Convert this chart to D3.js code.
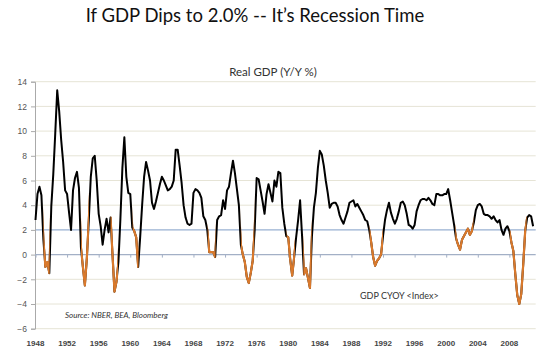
<!DOCTYPE html>
<html>
<head>
<meta charset="utf-8">
<script src="https://cdn.jsdelivr.net/npm/d3@7/dist/d3.min.js"></script>
<style>
  html, body { margin: 0; padding: 0; background: #fff; }
  svg { display: block; }
</style>
</head>
<body>
<svg id="chart" width="552" height="358"></svg>
<script>
// ---- Data (quarterly Real GDP Y/Y %, starting 1948 Q1) ----
const startYear = 1948;
const gdpYoY = [
  2.8, 4.9, 5.5, 4.8,     // 1948
  1.2, -1.0, -0.6, -1.5,  // 1949
  3.9, 6.5, 9.8, 13.3,    // 1950
  11.6, 9.3, 7.5, 5.2,    // 1951
  4.9, 3.4, 2.0, 5.2,     // 1952
  6.2, 6.7, 5.4, 0.6,     // 1953
  -1.0, -2.5, -0.3, 2.8,  // 1954
  6.3, 7.8, 8.0, 6.0,     // 1955
  3.3, 2.3, 0.8, 2.0,     // 1956
  2.9, 1.8, 3.0, 0.0,     // 1957
  -3.0, -2.2, -0.6, 2.9,  // 1958
  7.0, 9.5, 6.3, 5.0,     // 1959
  4.9, 2.2, 1.9, 1.4,     // 1960
  -1.0, 1.4, 4.0, 6.3,    // 1961
  7.5, 6.8, 6.0, 4.2,     // 1962
  3.7, 4.3, 5.0, 5.7,     // 1963
  6.3, 6.0, 5.6, 5.2,     // 1964
  5.3, 5.5, 6.0, 8.5,     // 1965
  8.5, 7.2, 5.8, 4.0,     // 1966
  3.0, 2.5, 2.4, 2.5,     // 1967
  5.0, 5.3, 5.2, 5.0,     // 1968
  4.6, 3.1, 2.8, 2.0,     // 1969
  0.2, 0.2, 0.2, -0.2,    // 1970
  2.8, 3.1, 3.2, 4.4,     // 1971
  3.7, 5.2, 5.5, 6.6,     // 1972
  7.6, 6.6, 5.3, 4.0,     // 1973
  0.8, 0.0, -0.6, -1.8,   // 1974
  -2.3, -1.5, -0.5, 2.0,  // 1975
  6.2, 6.1, 5.2, 4.3,     // 1976
  3.3, 4.9, 5.7, 5.0,     // 1977
  4.3, 6.0, 5.5, 6.7,     // 1978
  6.6, 3.8, 2.5, 1.5,     // 1979
  1.4, -0.4, -1.7, -0.2,  // 1980
  1.4, 2.8, 4.4, 1.5,     // 1981
  -1.6, -1.1, -1.9, -2.7, // 1982
  1.5, 3.8, 5.0, 7.0,     // 1983
  8.4, 8.1, 7.2, 6.0,     // 1984
  5.0, 3.8, 4.1, 4.2,     // 1985
  4.2, 3.9, 3.2, 2.8,     // 1986
  2.5, 3.0, 3.5, 4.2,     // 1987
  4.3, 4.4, 3.9, 4.1,     // 1988
  3.8, 3.5, 3.2, 2.8,     // 1989
  2.7, 2.0, 1.0, -0.2,    // 1990
  -0.9, -0.5, -0.3, 0.0,  // 1991
  1.5, 2.8, 3.6, 4.2,     // 1992
  3.4, 2.9, 2.5, 2.9,     // 1993
  3.5, 4.2, 4.3, 4.0,     // 1994
  3.3, 2.4, 2.3, 2.1,     // 1995
  2.4, 3.5, 4.0, 4.4,     // 1996
  4.5, 4.5, 4.4, 4.6,     // 1997
  4.4, 4.1, 4.0, 4.9,     // 1998
  4.9, 4.8, 4.8, 4.9,     // 1999
  4.9, 5.3, 4.4, 3.4,     // 2000
  2.4, 1.3, 0.8, 0.4,     // 2001
  1.2, 1.5, 1.8, 2.1,     // 2002
  1.6, 1.9, 2.6, 3.6,     // 2003
  4.0, 4.1, 3.9, 3.3,     // 2004
  3.2, 3.2, 3.1, 2.9,     // 2005
  3.1, 2.8, 2.6, 2.8,     // 2006
  2.0, 1.6, 2.1, 2.3,     // 2007
  1.9, 1.0, 0.3, -1.6,    // 2008
  -3.3, -4.0, -3.2, -0.8, // 2009
  1.9, 3.0, 3.2, 3.1,     // 2010
  2.3                     // 2011
];
// periods drawn in orange (decimal years)
const recessionStart = [1949.0, 1953.75, 1957.5, 1960.3, 1969.8, 1974.0, 1979.8, 1981.9, 1990.3, 2001.15, 2008.05];
const recessionEnd   = [1949.8, 1954.77, 1958.45, 1961.05, 1970.8, 1975.7, 1980.85, 1982.97, 1992.0, 2003.45, 2010.18];
const yTicks = [-6, -4, -2, 0, 2, 4, 6, 8, 10, 12, 14];
const xTickYears = d3.range(1948, 2009, 4);
const thresholdValue = 2;

const titleText = "If GDP Dips to 2.0% -- It\u2019s Recession Time";
const subtitleText = "Real GDP (Y/Y %)";
const sourceText = "Source: NBER, BEA, Bloomberg";
const seriesLabel = "GDP CYOY <Index>";

// ---- Layout ----
const svg = d3.select("#chart");
const plot = { left: 35, right: 535.7, top: 81.7, bottom: 328.7 };

const x = d3.scaleLinear().domain([1948, 2011.33]).range([35.5, plot.right]);
const y = d3.scaleLinear().domain([-6, 14]).range([plot.bottom, plot.top]);

const points = gdpYoY.map((v, i) => ({ t: startYear + i / 4, v }));

// Title
svg.append("text")
  .attr("x", 255).attr("y", 21.5)
  .attr("text-anchor", "middle")
  .attr("font-family", "Lato, 'Open Sans', sans-serif")
  .attr("font-size", 18.5)
  .attr("fill", "#111")
  .text(titleText);

svg.append("text")
  .attr("x", 273).attr("y", 76)
  .attr("text-anchor", "middle")
  .attr("font-family", "Lato, 'Open Sans', sans-serif")
  .attr("font-size", 11.5)
  .attr("fill", "#333")
  .text(subtitleText);

// Gridlines
svg.append("g")
  .selectAll("line")
  .data(yTicks.filter(d => d !== 0 && d !== thresholdValue))
  .join("line")
  .attr("x1", plot.left).attr("x2", plot.right)
  .attr("y1", d => y(d)).attr("y2", d => y(d))
  .attr("stroke", "#e6e4d6")
  .attr("stroke-width", 1);

// threshold line at 2%
svg.append("line")
  .attr("x1", plot.left).attr("x2", plot.right)
  .attr("y1", y(thresholdValue)).attr("y2", y(thresholdValue))
  .attr("stroke", "#98b0d2").attr("stroke-width", 1.2);

// Y axis
const yAxis = d3.axisLeft(y).tickValues(yTicks).tickSize(4).tickPadding(4);
const gy = svg.append("g").attr("transform", `translate(${plot.left},0)`).call(yAxis);
gy.select(".domain").attr("stroke", "#aaa");
gy.selectAll(".tick line").attr("stroke", "#aaa");
gy.selectAll(".tick text")
  .attr("font-family", "'Liberation Sans', Arial, sans-serif")
  .attr("font-size", 8.5)
  .attr("fill", "#555");

// X axis line at zero with ticks
const xAxis = d3.axisBottom(x).tickValues(xTickYears).tickSize(3).tickFormat("");
const gx = svg.append("g").attr("transform", `translate(0,${y(0)})`).call(xAxis);
gx.select(".domain").attr("d", `M${plot.left},0H${plot.right}`).attr("stroke", "#a3b0c6").attr("stroke-width", 1.2);
gx.selectAll(".tick line").attr("stroke", "#a3b0c6");

// X labels at bottom
svg.append("g")
  .selectAll("text")
  .data(xTickYears)
  .join("text")
  .attr("x", d => x(d))
  .attr("y", 345.5)
  .attr("text-anchor", "middle")
  .attr("font-family", "'Liberation Sans', Arial, sans-serif")
  .attr("font-weight", "bold")
  .attr("font-size", 8)
  .attr("fill", "#444")
  .text(d => d);

// Line
const line = d3.line().x(d => x(d.t)).y(d => y(d.v)).curve(d3.curveLinear);

svg.append("path")
  .datum(points)
  .attr("d", line)
  .attr("fill", "none")
  .attr("stroke", "#000")
  .attr("stroke-width", 2)
  .attr("stroke-linejoin", "round");

const defs = svg.append("defs");
const clip = defs.append("clipPath").attr("id", "recClip");
clip.selectAll("rect")
  .data(recessionStart.map((s, i) => [s, recessionEnd[i]]))
  .join("rect")
  .attr("x", d => x(d[0]))
  .attr("width", d => x(d[1]) - x(d[0]))
  .attr("y", 0).attr("height", 358);

svg.append("path")
  .datum(points)
  .attr("d", line)
  .attr("fill", "none")
  .attr("stroke", "#d9792c")
  .attr("stroke-width", 2.2)
  .attr("stroke-linejoin", "round")
  .attr("clip-path", "url(#recClip)");

// Annotations
svg.append("text")
  .attr("x", 65).attr("y", 318)
  .attr("font-family", "Lato, 'Open Sans', sans-serif")
  .attr("font-style", "italic")
  .attr("font-size", 8)
  .attr("fill", "#333")
  .text(sourceText);

svg.append("text")
  .attr("x", 360).attr("y", 299)
  .attr("font-family", "Lato, 'Open Sans', sans-serif")
  .attr("font-size", 9)
  .attr("fill", "#333")
  .text(seriesLabel);
</script>
</body>
</html>
